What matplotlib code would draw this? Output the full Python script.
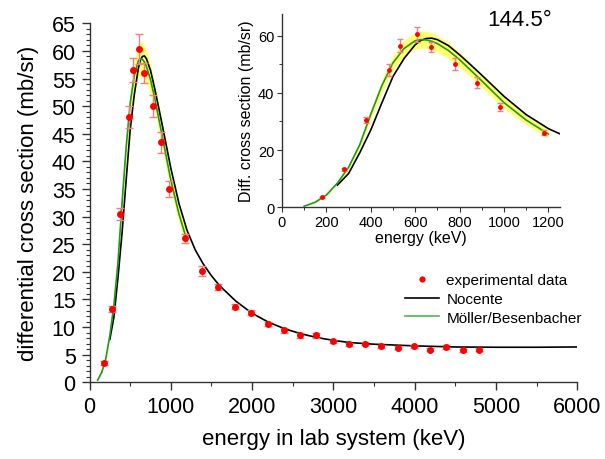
import numpy as np
import matplotlib
matplotlib.use("Agg")
import matplotlib.pyplot as plt
from matplotlib.ticker import MultipleLocator

plt.rcParams['font.family'] = ['Liberation Sans', 'DejaVu Sans']

E_exp = [180, 280, 380, 480, 530, 610, 670, 780, 880, 980, 1180,
         1385, 1585, 1785, 1985, 2190, 2390, 2590, 2790, 2990, 3190,
         3390, 3590, 3790, 3990, 4190, 4390, 4590, 4790]
sig_exp = [3.5, 13.3, 30.5, 48.0, 56.5, 60.4, 56.0, 50.1, 43.5, 35.0, 26.1,
           20.1, 17.3, 13.7, 12.6, 10.6, 9.4, 8.5, 8.5, 7.4, 6.9,
           7.0, 6.5, 6.3, 6.5, 5.9, 6.4, 5.8, 5.9]
err_exp = [0.3, 0.6, 1.1, 2.0, 2.2, 2.7, 1.8, 2.0, 1.9, 1.4, 0.8,
           0.9, 0.5, 0.5, 0.5, 0.4, 0.4, 0.4, 0.4, 0.3, 0.3,
           0.3, 0.3, 0.3, 0.3, 0.3, 0.3, 0.3, 0.3]

# --- Nocente evaluation (black) ---
E_noc = [250, 300, 350, 400, 450, 500, 550, 600, 625, 650, 675, 700, 750, 800,
         850, 900, 1000, 1100, 1200, 1300, 1400, 1500, 1600, 1800, 2000, 2200,
         2400, 2600, 2800, 3000, 3200, 3500, 4000, 4500, 5000, 5500, 6000]
sig_noc = [7.8, 11.8, 19.0, 27.0, 36.5, 45.7, 52.0, 56.8, 58.3, 59.0, 59.1, 58.6,
           56.5, 53.3, 49.8, 46.2, 38.8, 32.4, 27.5, 24.0, 21.4, 19.3, 17.5,
           14.7, 12.5, 10.9, 9.7, 8.8, 8.1, 7.6, 7.2, 6.9, 6.6, 6.4, 6.35,
           6.35, 6.4]

# --- Moller/Besenbacher (green) and its uncertainty band ---
E_mb = [100, 150, 200, 250, 300, 350, 400, 450, 500, 550, 600, 625, 650, 675,
        700, 750, 800, 900, 1000, 1100, 1200]
sig_mb = [0.4, 1.8, 4.3, 8.5, 14.0, 21.8, 32.5, 42.5, 50.5, 55.5, 58.2, 58.6,
          58.5, 58.0, 57.2, 54.8, 51.6, 44.2, 36.6, 30.5, 25.6]
band_mb = [0.1, 0.2, 0.3, 0.5, 0.8, 1.2, 1.7, 2.1, 2.5, 2.8, 3.0, 3.0,
           3.0, 3.0, 2.9, 2.8, 2.6, 2.3, 1.9, 1.6, 1.4]

GREEN = '#1e9a1e'
RED = '#ff0000'
ERRC = '#f08080'
BAND = '#ffff70'
SPINE = '#333333'

fig = plt.figure(figsize=(6.05, 4.60), dpi=100)
ax = fig.add_axes([0.148, 0.1667, 0.806, 0.7804])

lo = np.array(sig_mb) - np.array(band_mb)
hi = np.array(sig_mb) + np.array(band_mb)


def draw(a, ms, cap):
    a.fill_between(E_mb, lo, hi, color=BAND, lw=0, zorder=1)
    a.plot(E_noc, sig_noc, color='black', lw=1.2, zorder=3)
    a.plot(E_mb, sig_mb, color=GREEN, lw=1.2, zorder=4)
    a.errorbar(E_exp, sig_exp, yerr=err_exp, fmt='none', ecolor=ERRC,
               elinewidth=1.0, capsize=cap, capthick=1.0, zorder=5)
    a.plot(E_exp, sig_exp, 'o', color=RED, ms=ms, mec='none', zorder=6)
    for s in ['top', 'right']:
        a.spines[s].set_visible(False)
    for s in ['left', 'bottom']:
        a.spines[s].set_color(SPINE)
        a.spines[s].set_linewidth(1.0)


draw(ax, 5, 3)
ax.set_xlim(0, 6000)
ax.set_ylim(0, 65)
ax.xaxis.set_major_locator(MultipleLocator(1000))
ax.xaxis.set_minor_locator(MultipleLocator(500))
ax.yaxis.set_major_locator(MultipleLocator(5))
ax.yaxis.set_minor_locator(MultipleLocator(1))
ax.tick_params(which='major', direction='out', length=6, width=1.0,
               color=SPINE, labelsize=15.5, pad=4)
ax.tick_params(which='minor', direction='out', length=3, width=0.8, color=SPINE)
ax.set_xlabel('energy in lab system (keV)', fontsize=16, labelpad=8)
ax.set_ylabel('differential cross section (mb/sr)', fontsize=16, labelpad=9)

# legend (proxy handles)
h1, = ax.plot([], [], 'o', color=RED, ms=4.5, mec='none')
h2, = ax.plot([], [], color='black', lw=1.2)
h3, = ax.plot([], [], color='#4cb84c', lw=1.2)
fig.legend([h1, h2, h3], ['experimental data', 'Nocente', 'Möller/Besenbacher'],
           loc='upper left', bbox_to_anchor=(405 / 605, 1 - 274 / 460),
           frameon=False, fontsize=11, handlelength=2.2, handletextpad=0.5,
           labelspacing=0.32, borderpad=0, borderaxespad=0)

# inset
axi = fig.add_axes([0.466, 0.547, 0.4595, 0.4207])
axi.patch.set_alpha(0)
draw(axi, 3.5, 2)
axi.set_xlim(0, 1252)
axi.set_ylim(0, 67.6)
axi.xaxis.set_major_locator(MultipleLocator(200))
axi.xaxis.set_minor_locator(MultipleLocator(100))
axi.yaxis.set_major_locator(MultipleLocator(20))
axi.yaxis.set_minor_locator(MultipleLocator(10))
axi.tick_params(which='major', direction='out', length=3.5, width=0.8,
                color=SPINE, labelsize=10.5, pad=2)
axi.tick_params(which='minor', direction='out', length=2, width=0.7, color=SPINE)
axi.set_xlabel('energy (keV)', fontsize=11.5, labelpad=1)
axi.set_ylabel('Diff. cross section (mb/sr)', fontsize=11.5, labelpad=3)

fig.text(487 / 605, 1 - 21 / 460, '144.5°', fontsize=16, va='center', ha='left')

fig.savefig('out.png', dpi=100)
